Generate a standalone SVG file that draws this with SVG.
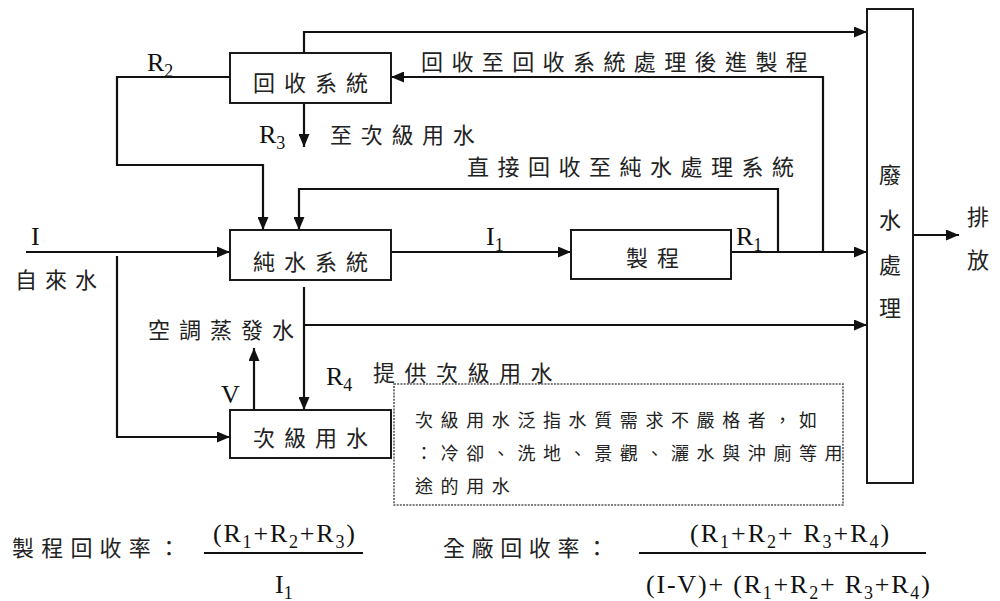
<svg xmlns="http://www.w3.org/2000/svg" width="1000" height="601" viewBox="0 0 1000 601">
<style>
.box{fill:#fff;stroke:#1a1a1a;stroke-width:2}
.ln{fill:none;stroke:#111;stroke-width:2.2}
.cj{font-family:"Noto Sans CJK TC","Noto Sans CJK SC",sans-serif;font-size:22px;fill:#222}
.lt{font-family:"Liberation Serif","Times New Roman",serif;font-size:26px;fill:#111}
.sm{font-family:"Noto Sans CJK TC","Noto Sans CJK SC",sans-serif;font-size:18px;fill:#222;letter-spacing:7.6px}
</style>
<defs>
<marker id="ah" markerUnits="userSpaceOnUse" markerWidth="13" markerHeight="11" refX="13" refY="5.5" orient="auto">
<path d="M0,0 L13,5.5 L0,11 z" fill="#111"/>
</marker>
</defs>
<rect width="1000" height="601" fill="#fff"/>

<g id="connectors">
<path class="ln" d="M304,53 V32 H867" marker-end="url(#ah)"/>
<path class="ln" d="M823,252 V77 H391" marker-end="url(#ah)"/>
<path class="ln" d="M230,77 H117 V165 H263 V230" marker-end="url(#ah)"/>
<path class="ln" d="M304,103 V147" marker-end="url(#ah)"/>
<path class="ln" d="M778,252 V189 H299 V230" marker-end="url(#ah)"/>
<path class="ln" d="M26,252 H230" marker-end="url(#ah)"/>
<path class="ln" d="M117,256 V437 H230" marker-end="url(#ah)"/>
<path class="ln" d="M391,252 H571" marker-end="url(#ah)"/>
<path class="ln" d="M731,252 H867" marker-end="url(#ah)"/>
<path class="ln" d="M304,287 V410" marker-end="url(#ah)"/>
<path class="ln" d="M304,325 H867" marker-end="url(#ah)"/>
<path class="ln" d="M254,410 V348" marker-end="url(#ah)"/>
<path class="ln" d="M913,235 H959" marker-end="url(#ah)"/>
</g>

<g id="labels">
<text class="lt" x="147" y="71">R<tspan dy="6" font-size="18">2</tspan></text>
<text class="lt" x="259" y="143">R<tspan dy="6" font-size="18">3</tspan></text>
<text class="cj" x="330" y="143" letter-spacing="8.7">至次級用水</text>
<text class="cj" x="421" y="70" letter-spacing="8.4">回收至回收系統處理後進製程</text>
<text class="cj" x="467" y="175" letter-spacing="8.5">直接回收至純水處理系統</text>
<text class="lt" x="31" y="245">I</text>
<text class="cj" x="15" y="288" letter-spacing="8">自來水</text>
<text class="lt" x="486" y="245">I<tspan dy="6" font-size="18">1</tspan></text>
<text class="lt" x="736" y="245">R<tspan dy="6" font-size="18">1</tspan></text>
<text class="cj" x="148" y="338" letter-spacing="9">空調蒸發水</text>
<text class="lt" x="326" y="385">R<tspan dy="6" font-size="18">4</tspan></text>
<text class="cj" x="373" y="381" letter-spacing="9.5">提供次級用水</text>
<text class="lt" x="221" y="403">V</text>
<text class="cj" x="967" y="225">排</text>
<text class="cj" x="967" y="268">放</text>
</g>

<g id="node-recycle">
<rect class="box" x="230" y="53" width="161" height="50"/>
<text class="cj" x="253" y="91" letter-spacing="9">回收系統</text>
</g>
<g id="node-pure">
<rect class="box" x="230" y="230" width="161" height="50"/>
<text class="cj" x="253" y="270" letter-spacing="9">純水系統</text>
</g>
<g id="node-secondary">
<rect class="box" x="230" y="410" width="161" height="48"/>
<text class="cj" x="253" y="446" letter-spacing="9">次級用水</text>
</g>
<g id="node-process">
<rect class="box" x="571" y="230" width="160" height="49"/>
<text class="cj" x="626" y="266" letter-spacing="9">製程</text>
</g>
<g id="node-wastewater">
<rect class="box" x="867" y="9" width="46" height="474"/>
<text class="cj" x="879" y="183">廢</text>
<text class="cj" x="879" y="228">水</text>
<text class="cj" x="879" y="273">處</text>
<text class="cj" x="879" y="316">理</text>
</g>
<g id="note">
<rect x="394" y="384" width="449" height="121" fill="none" stroke="#555" stroke-width="1.6" stroke-dasharray="2,1.2"/>
<text class="sm" x="415" y="427">次級用水泛指水質需求不嚴格者，如</text>
<text class="sm" x="415" y="460">：冷卻、洗地、景觀、灑水與沖廁等用</text>
<text class="sm" x="415" y="493">途的用水</text>
</g>

<g id="formula-process">
<text class="cj" x="12" y="556" letter-spacing="7.2">製程回收率：</text>
<text class="lt" x="213" y="542" letter-spacing="1.8">(R<tspan dy="6" font-size="18">1</tspan><tspan dy="-6">+R</tspan><tspan dy="6" font-size="18">2</tspan><tspan dy="-6">+R</tspan><tspan dy="6" font-size="18">3</tspan><tspan dy="-6">)</tspan></text>
<line class="ln" x1="204" y1="553" x2="363" y2="553"/>
<text class="lt" x="275" y="593">I<tspan dy="6" font-size="18">1</tspan></text>
</g>
<g id="formula-plant">
<text class="cj" x="443" y="556" letter-spacing="6.6">全廠回收率：</text>
<text class="lt" x="690" y="542" letter-spacing="2">(R<tspan dy="6" font-size="18">1</tspan><tspan dy="-6">+R</tspan><tspan dy="6" font-size="18">2</tspan><tspan dy="-6">+ R</tspan><tspan dy="6" font-size="18">3</tspan><tspan dy="-6">+R</tspan><tspan dy="6" font-size="18">4</tspan><tspan dy="-6">)</tspan></text>
<line class="ln" x1="639" y1="553" x2="926" y2="553"/>
<text class="lt" x="646" y="593" letter-spacing="1.8">(I-V)+ (R<tspan dy="6" font-size="18">1</tspan><tspan dy="-6">+R</tspan><tspan dy="6" font-size="18">2</tspan><tspan dy="-6">+ R</tspan><tspan dy="6" font-size="18">3</tspan><tspan dy="-6">+R</tspan><tspan dy="6" font-size="18">4</tspan><tspan dy="-6">)</tspan></text>
</g>
</svg>
